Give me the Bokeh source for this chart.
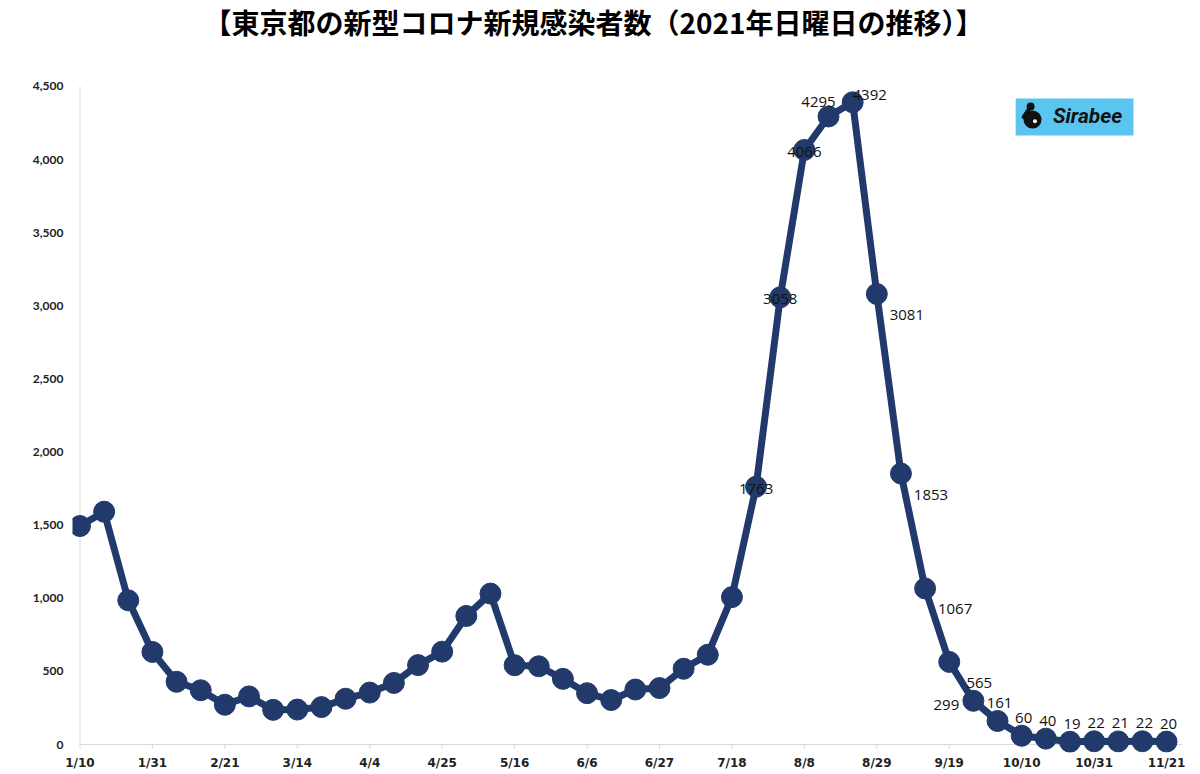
from bokeh.plotting import figure
from bokeh.models import ColumnDataSource, Range1d, FixedTicker, NumeralTickFormatter
from bokeh.core.properties import value
from bokeh.embed import file_html
from bokeh.resources import INLINE

title_text = "【東京都の新型コロナ新規感染者数（2021年日曜日の推移）】"

dates = ["1/10", "1/17", "1/24", "1/31", "2/7", "2/14", "2/21", "2/28", "3/7", "3/14",
         "3/21", "3/28", "4/4", "4/11", "4/18", "4/25", "5/2", "5/9", "5/16", "5/23",
         "5/30", "6/6", "6/13", "6/20", "6/27", "7/4", "7/11", "7/18", "7/25", "8/1",
         "8/8", "8/15", "8/22", "8/29", "9/5", "9/12", "9/19", "9/26", "10/3", "10/10",
         "10/17", "10/24", "10/31", "11/7", "11/14", "11/21"]

cases = [1494, 1592, 986, 633, 429, 371, 272, 329, 237, 239,
         256, 313, 355, 421, 543, 635, 879, 1032, 542, 535,
         449, 351, 304, 376, 386, 518, 614, 1008, 1763, 3058,
         4066, 4295, 4392, 3081, 1853, 1067, 565, 299, 161, 60,
         40, 19, 22, 21, 22, 20]

tick_labels = ["1/10", "1/31", "2/21", "3/14", "4/4", "4/25", "5/16", "6/6", "6/27",
               "7/18", "8/8", "8/29", "9/19", "10/10", "10/31", "11/21"]

y_ticks = [0, 500, 1000, 1500, 2000, 2500, 3000, 3500, 4000, 4500]

# data labels shown from 7/25 onward, with their placement around the point
first_labeled = "7/25"
label_place = ["c", "c", "c", "al", "ar", "br", "br", "br", "br", "l",
               "a", "a", "a", "a", "a", "a", "a", "a"]
place_offsets = {"c": (0, 2), "al": (-10, -14), "ar": (17, -7), "br": (30, 21),
                 "l": (-27, 4), "a": (2, -18)}

NAVY = "#223a6b"
AXIS = "#d9d9d9"

x = list(range(len(dates)))
tick_pos = [dates.index(t) for t in tick_labels]

x_start, x_end = -0.31, len(dates) - 1 + 0.66
y_start, y_end = -54.7, 5088   # room above the axis for the title

p = figure(width=1198, height=772, output_backend="svg", toolbar_location=None,
           x_range=Range1d(x_start, x_end), y_range=Range1d(y_start, y_end),
           min_border_left=72, min_border_right=16, min_border_top=0,
           min_border_bottom=20)
p.outline_line_color = None
p.xgrid.grid_line_color = None
p.ygrid.grid_line_color = None
p.background_fill_color = "white"
p.border_fill_color = "white"

# y axis
p.yaxis.ticker = FixedTicker(ticks=y_ticks)
p.yaxis.formatter = NumeralTickFormatter(format="0,0")
p.yaxis.axis_line_color = None
p.yaxis.major_tick_line_color = None
p.yaxis.minor_tick_line_color = None
p.yaxis.major_tick_out = 0
p.yaxis.major_tick_in = 0
p.yaxis.major_label_standoff = 9
p.yaxis.major_label_text_font = "Lato"
p.yaxis.major_label_text_font_style = "bold"
p.yaxis.major_label_text_font_size = "12px"
p.yaxis.major_label_text_color = "#222222"

# x axis
p.xaxis.ticker = FixedTicker(ticks=tick_pos)
p.xaxis.major_label_overrides = {pos: lab for pos, lab in zip(tick_pos, tick_labels)}
p.xaxis.axis_line_color = None
p.xaxis.major_tick_line_color = None
p.xaxis.minor_tick_line_color = None
p.xaxis.major_tick_out = 0
p.xaxis.major_tick_in = 0
p.xaxis.major_label_standoff = 3
p.xaxis.major_label_text_font = "DejaVu Sans"
p.xaxis.major_label_text_font_style = "bold"
p.xaxis.major_label_text_font_size = "12px"
p.xaxis.major_label_text_color = "#222222"

# title
p.text(x=[21.27], y=[4938], text=[title_text], text_font=value("Noto Sans CJK JP"),
       text_font_size="28px", text_font_style="bold", text_align="center",
       text_baseline="middle", text_color="#000000")

# axis lines and ticks
p.segment(x0=[x[0]], y0=[0], x1=[x[0]], y1=[y_ticks[-1]], line_color=AXIS, line_width=1)
p.segment(x0=[x[0]], y0=[0], x1=[x_end], y1=[0], line_color=AXIS, line_width=1)
p.segment(x0=tick_pos, y0=[0] * len(tick_pos), x1=tick_pos,
          y1=[y_start * 0.55] * len(tick_pos), line_color=AXIS, line_width=1)

# series
p.line(x, cases, line_width=7, line_color=NAVY, line_join="round")
p.scatter(x, cases, size=21, marker="circle", fill_color=NAVY, line_color=NAVY)

# data labels
k = dates.index(first_labeled)
lab_src = ColumnDataSource(dict(
    x=x[k:], y=cases[k:], text=[str(c) for c in cases[k:]],
    xo=[place_offsets[pl][0] for pl in label_place],
    yo=[place_offsets[pl][1] for pl in label_place],
))
p.text(x="x", y="y", text="text", source=lab_src, x_offset="xo", y_offset="yo",
       text_font=value("Open Sans"), text_font_size="15px", text_align="center",
       text_baseline="middle", text_color="#111111")

# Sirabee logo
logo_left, logo_right, logo_top, logo_bottom = 38.75, 43.63, 4418, 4165
p.quad(left=[logo_left], right=[logo_right], top=[logo_top], bottom=[logo_bottom],
       fill_color="#5bc5f2", line_color=None)
p.segment(x0=[39.37], y0=[4363], x1=[39.08], y1=[4290], line_color="#111111",
          line_width=4, line_cap="round")
p.scatter(x=[39.45], y=[4274], size=18, marker="circle", fill_color="#111111", line_color=None)
p.scatter(x=[39.37], y=[4363], size=8, marker="circle", fill_color="#111111", line_color=None)
p.scatter(x=[39.55], y=[4262], size=4, marker="circle", fill_color="white", line_color=None)
p.text(x=[41.73], y=[4295], text=["Sirabee"], text_font=value("Roboto"),
       text_font_size="21px", text_font_style="bold italic", text_align="center",
       text_baseline="middle", text_color="#111111")

open("out.html", "w").write(file_html(p, INLINE))
